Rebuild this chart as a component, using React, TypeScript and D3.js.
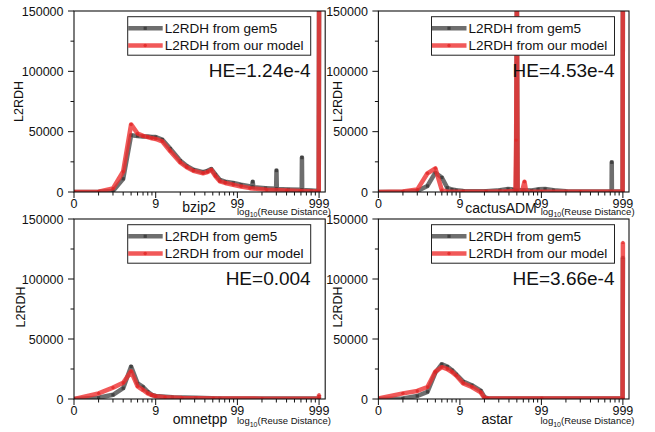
import React from "react";
import * as d3 from "d3";

// ---------- data (reuse distance, L2RDH count) ----------
const benchmarks = ["bzip2", "cactusADM", "omnetpp", "astar"];
const heLabels = ["HE=1.24e-4", "HE=4.53e-4", "HE=0.004", "HE=3.66e-4"];
const seriesNames = ["L2RDH from gem5", "L2RDH from our model"];
const xTickValues = [0, 9, 99, 999];
const xTickLabels = ["0", "9", "99", "999"];
const yTickValues = [0, 50000, 100000, 150000];
const yMinorTicks = [25000, 75000, 125000];

const bzip2Gem5: [number, number][] = [
  [0, 0], [1, 200], [2, 800], [3, 11000], [4, 47000], [5, 46500], [6, 46000], [7, 46000],
  [8, 45500], [9, 45500], [11, 43500], [14, 36000], [19, 26000], [23, 21500], [28, 18500],
  [37, 16500], [42, 17500], [47, 19000], [53, 14500], [60, 10000], [70, 8500], [88, 7500],
  [110, 6000], [150, 4300], [153, 8500], [156, 4000], [220, 3200], [297, 2600], [300, 17800],
  [303, 2500], [420, 2100], [612, 1800], [616, 28500], [620, 1700], [800, 1200], [988, 800],
  [999, 160000],
];
const bzip2Model: [number, number][] = [
  [0, 0], [1, 300], [2, 3000], [3, 17000], [4, 56000], [5, 48500], [6, 46500], [7, 45500],
  [8, 44500], [9, 44000], [11, 42000], [14, 34000], [19, 24500], [23, 20500], [28, 17500],
  [37, 15500], [42, 16500], [47, 18300], [53, 13000], [60, 8800], [70, 7500], [88, 6000],
  [110, 4500], [142, 3200], [228, 1800], [400, 1200], [585, 800], [930, 500], [990, 300],
  [999, 160000],
];
const cactusGem5: [number, number][] = [
  [0, 0], [1, 100], [2, 800], [3, 5000], [4, 16000], [5, 12000], [6, 3500], [7, 2000],
  [8, 1500], [10, 800], [20, 600], [30, 1500], [38, 2500], [45, 2000], [48, 1500],
  [49, 170000], [50, 1500], [60, 1500], [75, 1200], [90, 2200], [110, 2500], [140, 1500],
  [200, 600], [700, 500], [726, 500], [729, 24600], [732, 500], [990, 500], [999, 170000],
];
const cactusModel: [number, number][] = [
  [0, 0], [1, 500], [2, 2000], [3, 15500], [4, 19600], [5, 1500], [6, 300], [10, 200],
  [20, 200], [35, 500], [47, 600], [48, 43000], [49, 170000], [50, 500], [57, 600],
  [61, 8500], [64, 500], [100, 300], [300, 200], [990, 200], [999, 170000],
];
const omnetppGem5: [number, number][] = [
  [0, 0], [1, 1000], [2, 3500], [3, 9000], [4, 27000], [5, 13000], [6, 10000], [7, 6000],
  [8, 3500], [9, 2500], [15, 1500], [30, 1000], [60, 500], [990, 400], [999, 2000],
];
const omnetppModel: [number, number][] = [
  [0, 0], [1, 4700], [2, 9500], [3, 13600], [4, 23000], [5, 10500], [6, 7500], [7, 4700],
  [8, 3200], [9, 2300], [12, 1500], [20, 800], [50, 400], [200, 300], [990, 300], [999, 3500],
];
const astarGem5: [number, number][] = [
  [0, 0], [1, 500], [2, 2500], [3, 6000], [4, 22000], [5, 29000], [6, 27000], [7, 24000],
  [8, 20500], [10, 14500], [13, 11500], [17, 7000], [19, 1500], [21, 500], [100, 500],
  [990, 500], [999, 118000],
];
const astarModel: [number, number][] = [
  [0, 500], [1, 4700], [2, 6700], [3, 10000], [4, 22800], [5, 26500], [6, 25000], [7, 22500],
  [8, 19500], [10, 13000], [13, 10000], [17, 5500], [19, 1000], [21, 400], [100, 400],
  [990, 400], [999, 130500],
];

const gem5Series = [bzip2Gem5, cactusGem5, omnetppGem5, astarGem5];
const modelSeries = [bzip2Model, cactusModel, omnetppModel, astarModel];

// ---------- layout ----------
const W = 655;
const H = 432;
const FONT = "'Liberation Sans', Arial, Helvetica, sans-serif";

const layout = [
  { left: 74, top: 11, right: 325.2, bottom: 192, yLabX: 18.5, yLabY: 101.5, titleX: 199, titleY: 212, logX: 237, logY: 214.5 },
  { left: 378.4, top: 11, right: 629, bottom: 192, yLabX: 337, yLabY: 101.5, titleX: 501, titleY: 213, logX: 540.7, logY: 214.5 },
  { left: 74, top: 219, right: 325.2, bottom: 399, yLabX: 20.5, yLabY: 307, titleX: 200, titleY: 424, logX: 237, logY: 424 },
  { left: 378.4, top: 219, right: 629, bottom: 399, yLabX: 337, yLabY: 307, titleX: 497, titleY: 424, logX: 540.5, logY: 424 },
];

const GRAY = "#4a4a4a";
const RED = "#ee3030";
const LW = 4.5;

function minorXTicks(): number[] {
  const out: number[] = [];
  for (let p = 1; p <= 100; p *= 10) for (let k = 2; k <= 9; k++) out.push(Math.log10(k * p));
  return out;
}

function Panel({ i }: { i: number }) {
  const L = layout[i];
  const x = d3.scaleLinear().domain([0, 3.075]).range([L.left, L.right]);
  const y = d3.scaleLinear().domain([0, 150000]).range([L.bottom, L.top]);
  const line = d3
    .line<[number, number]>()
    .x((d) => x(Math.log10(d[0] + 1)))
    .y((d) => y(d[1]));
  const clipId = `clip${i}`;
  const boxR = L.right - 14.5;
  const boxW = 183;
  const boxL = boxR - boxW;
  const boxT = L.top + 5.7;
  const boxH = 38.5;
  const row1 = L.top + 17.3;
  const row2 = L.top + 34.5;
  const lineEnd = boxL + 35;
  const gem = gem5Series[i];
  const mod = modelSeries[i];
  return (
    <g>
      <defs>
        <clipPath id={clipId}>
          <rect x={L.left} y={L.top} width={L.right - L.left} height={L.bottom - L.top} />
        </clipPath>
      </defs>
      <g clipPath={`url(#${clipId})`}>
        <path d={line(gem) || ""} fill="none" stroke={GRAY} strokeOpacity={0.8} strokeWidth={LW} strokeLinejoin="round" />
        {gem.map((d, k) => (
          <rect key={"g" + k} x={x(Math.log10(d[0] + 1)) - 1.6} y={y(d[1]) - 1.6} width={3.2} height={3.2} fill="#333" fillOpacity={0.75} />
        ))}
        <path d={line(mod) || ""} fill="none" stroke={RED} strokeOpacity={0.8} strokeWidth={LW} strokeLinejoin="round" />
        {mod.map((d, k) => (
          <circle key={"m" + k} cx={x(Math.log10(d[0] + 1))} cy={y(d[1])} r={1.7} fill="#e02424" fillOpacity={0.75} />
        ))}
      </g>
      {/* frame */}
      <rect x={L.left} y={L.top} width={L.right - L.left} height={L.bottom - L.top} fill="none" stroke="#111" strokeWidth={1.1} />
      {/* y ticks */}
      {yTickValues.map((v) => (
        <g key={"yt" + v}>
          <line x1={L.left - 6} x2={L.left} y1={y(v)} y2={y(v)} stroke="#111" strokeWidth={1} />
          <text x={L.left - 10.5} y={y(v)} dy="0.36em" textAnchor="end" fontSize={12.5} fontFamily={FONT} fill="#111">
            {String(v)}
          </text>
        </g>
      ))}
      {yMinorTicks.map((v) => (
        <line key={"ym" + v} x1={L.left - 3.5} x2={L.left} y1={y(v)} y2={y(v)} stroke="#111" strokeWidth={1} />
      ))}
      {/* x ticks */}
      {xTickValues.map((v, k) => {
        const px = x(Math.log10(v + 1));
        return (
          <g key={"xt" + v}>
            <line x1={px} x2={px} y1={L.bottom} y2={L.bottom + 6} stroke="#111" strokeWidth={1} />
            <text x={px} y={L.bottom + 16} textAnchor="middle" fontSize={12.5} fontFamily={FONT} fill="#111">
              {xTickLabels[k]}
            </text>
          </g>
        );
      })}
      {minorXTicks().map((v, k) => (
        <line key={"xm" + k} x1={x(v)} x2={x(v)} y1={L.bottom} y2={L.bottom + 3.5} stroke="#111" strokeWidth={1} />
      ))}
      {/* axis titles */}
      <text transform={`translate(${L.yLabX},${L.yLabY}) rotate(-90)`} textAnchor="middle" dy="0.36em" fontSize={12.5} fontFamily={FONT} fill="#111">
        L2RDH
      </text>
      <text x={L.titleX} y={L.titleY} textAnchor="middle" fontSize={14} fontFamily={FONT} fill="#111">
        {benchmarks[i]}
      </text>
      <text x={L.logX} y={L.logY} fontSize={9.5} fontFamily={FONT} fill="#111">
        log
        <tspan fontSize={7} dy={2.5}>10</tspan>
        <tspan dy={-2.5}>(Reuse Distance)</tspan>
      </text>
      {/* legend */}
      <rect x={boxL} y={boxT} width={boxW} height={boxH} fill="#fff" stroke="#222" strokeWidth={1} />
      <line x1={boxL + 0.5} x2={lineEnd} y1={row1} y2={row1} stroke={GRAY} strokeOpacity={0.8} strokeWidth={LW} />
      <rect x={(boxL + lineEnd) / 2 - 1.6} y={row1 - 1.6} width={3.2} height={3.2} fill="#333" fillOpacity={0.75} />
      <line x1={boxL + 0.5} x2={lineEnd} y1={row2} y2={row2} stroke={RED} strokeOpacity={0.8} strokeWidth={LW} />
      <circle cx={(boxL + lineEnd) / 2} cy={row2} r={1.7} fill="#e02424" fillOpacity={0.75} />
      <text x={lineEnd + 2} y={row1} dy="0.36em" fontSize={13.5} fontFamily={FONT} fill="#111">
        {seriesNames[0]}
      </text>
      <text x={lineEnd + 2} y={row2} dy="0.36em" fontSize={13.5} fontFamily={FONT} fill="#111">
        {seriesNames[1]}
      </text>
      <text x={boxR} y={L.top + 66} textAnchor="end" fontSize={19} fontFamily={FONT} fill="#111">
        {heLabels[i]}
      </text>
    </g>
  );
}

export default function App() {
  return (
    <svg width={W} height={H} style={{ position: "absolute", left: 0, top: 0, background: "#fff" }}>
      <rect x={0} y={0} width={W} height={H} fill="#fff" />
      {benchmarks.map((_, i) => (
        <Panel key={i} i={i} />
      ))}
    </svg>
  );
}
